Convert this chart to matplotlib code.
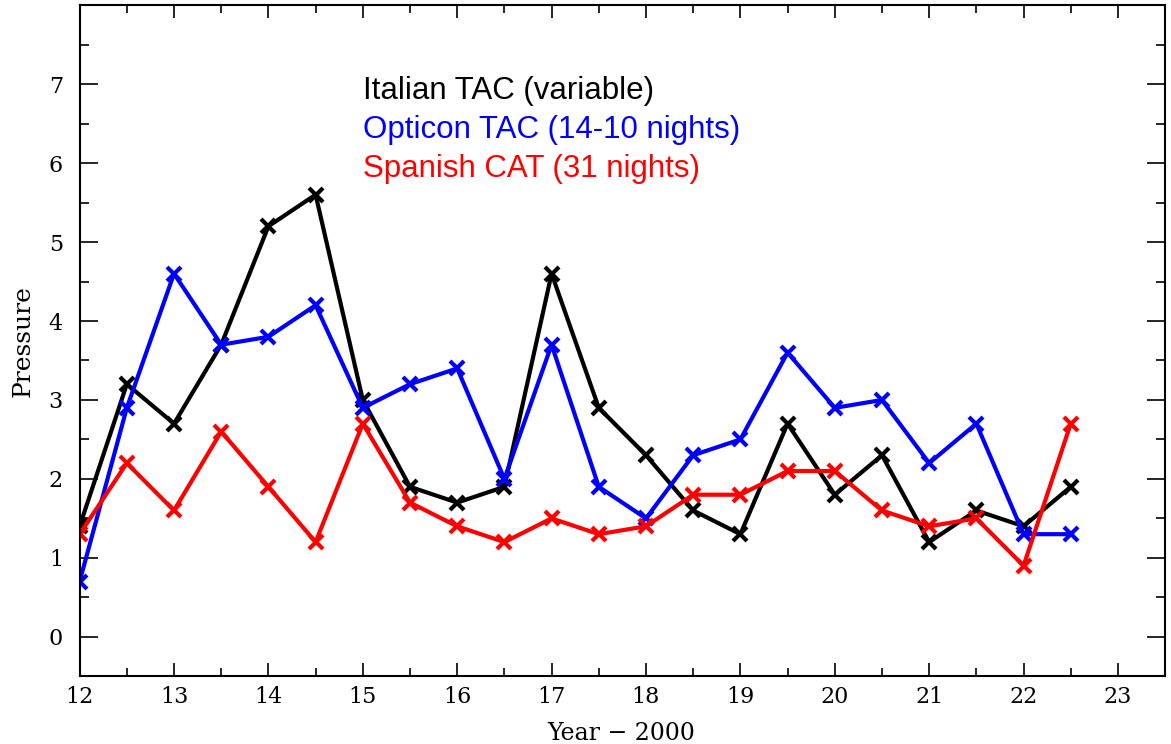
import matplotlib
matplotlib.use("Agg")
import matplotlib.pyplot as plt
from matplotlib.ticker import MultipleLocator

# %% data
years = [12, 12.5, 13, 13.5, 14, 14.5, 15, 15.5, 16, 16.5, 17, 17.5,
         18, 18.5, 19, 19.5, 20, 20.5, 21, 21.5, 22, 22.5]
italian = [1.4, 3.2, 2.7, 3.7, 5.2, 5.6, 3.0, 1.9, 1.7, 1.9, 4.6, 2.9,
           2.3, 1.6, 1.3, 2.7, 1.8, 2.3, 1.2, 1.6, 1.4, 1.9]
opticon = [0.7, 2.9, 4.6, 3.7, 3.8, 4.2, 2.9, 3.2, 3.4, 2.0, 3.7, 1.9,
           1.5, 2.3, 2.5, 3.6, 2.9, 3.0, 2.2, 2.7, 1.3, 1.3]
spanish = [1.3, 2.2, 1.6, 2.6, 1.9, 1.2, 2.7, 1.7, 1.4, 1.2, 1.5, 1.3,
           1.4, 1.8, 1.8, 2.1, 2.1, 1.6, 1.4, 1.5, 0.9, 2.7]
labels = ["Italian TAC (variable)", "Opticon TAC (14-10 nights)", "Spanish CAT (31 nights)"]
colors = ["black", "blue", "red"]

# %% plot
fig = plt.figure(figsize=(11.71, 7.44), dpi=100)
ax = fig.add_axes([0.068, 0.091, 0.927, 0.902])

for y, c in zip([italian, opticon, spanish], colors):
    ax.plot(years, y, color=c, lw=3, marker="x", ms=10, mew=3)

ax.set_xlim(12, 23.5)
ax.set_ylim(-0.5, 8)
ax.xaxis.set_major_locator(MultipleLocator(1))
ax.xaxis.set_minor_locator(MultipleLocator(0.5))
ax.yaxis.set_major_locator(MultipleLocator(1))
ax.yaxis.set_minor_locator(MultipleLocator(0.5))
ax.set_yticks(range(0, 8))

tickfont = "DejaVu Serif"
ax.tick_params(axis="both", which="both", direction="in", top=True, right=True,
               width=1.2, labelsize=16)
ax.tick_params(axis="x", which="major", length=9.5, pad=7)
ax.tick_params(axis="x", which="minor", length=6)
ax.tick_params(axis="y", which="major", length=13, pad=12)
ax.tick_params(axis="y", which="minor", length=6.5)
for lab in ax.get_xticklabels() + ax.get_yticklabels():
    lab.set_fontfamily(tickfont)
for s in ax.spines.values():
    s.set_linewidth(1.5)

ax.set_xlabel("Year \u2212 2000", fontsize=17, family=tickfont, va="center")
ax.xaxis.set_label_coords(0.499, -0.085)
ax.set_ylabel("Pressure", fontsize=18, family=tickfont, labelpad=10)

for i, (lab, c) in enumerate(zip(labels, colors)):
    ax.text(15.0, 6.81 - 0.49 * i, lab, color=c, fontsize=22.5,
            family="Liberation Sans", va="baseline")

fig.savefig("out.png", dpi=100)
